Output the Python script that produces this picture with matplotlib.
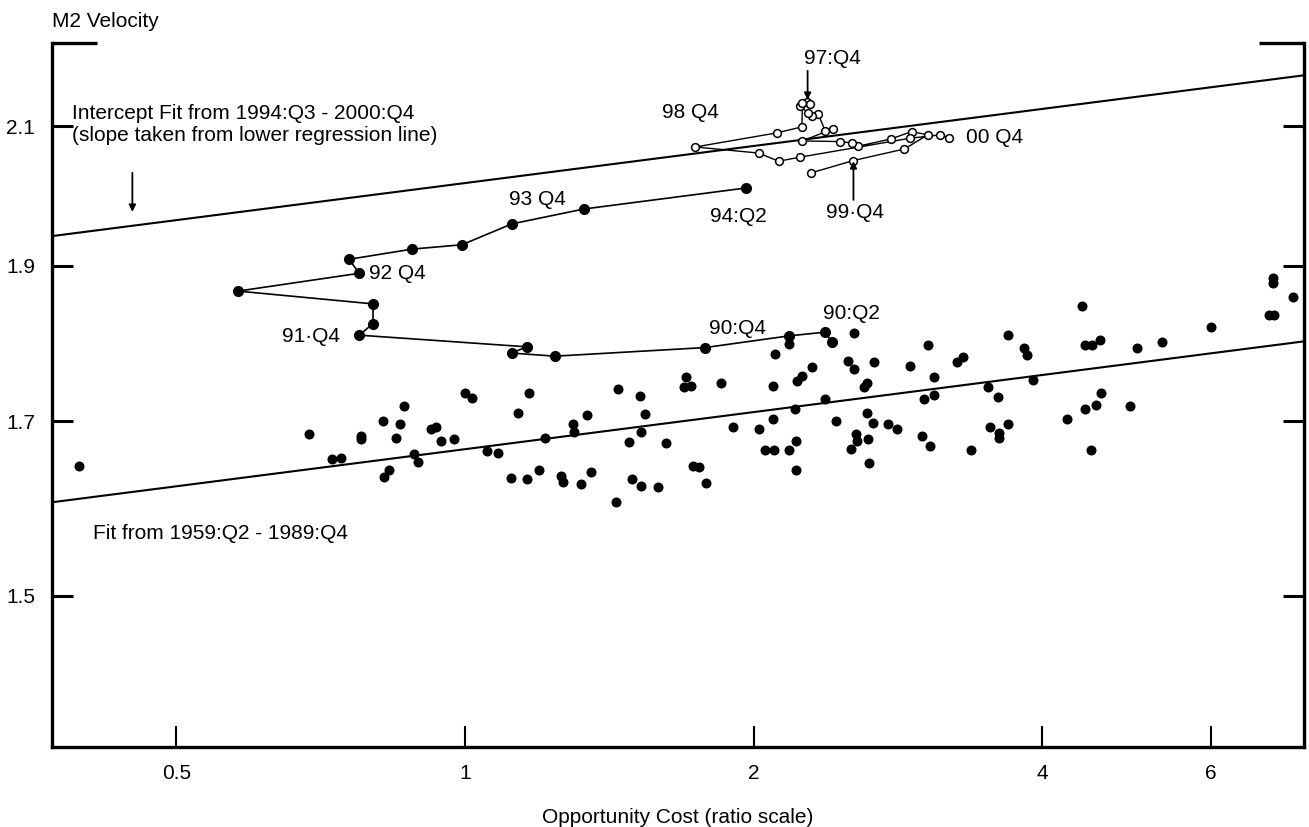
import numpy as np
import matplotlib as mp
import matplotlib.pyplot as plt
from matplotlib.ticker import NullLocator, FixedLocator, FixedFormatter

mp.rcParams['font.family'] = ['Liberation Sans', 'DejaVu Sans']
mp.rcParams.update({'font.size': 15})

# Quarterly data 1959:Q2 - 1989:Q4 (opportunity cost, M2 velocity)
scat_x = [0.396, 0.688, 0.727, 0.743, 0.779, 0.779, 0.821, 0.823, 0.833, 0.847,
          0.856, 0.864, 0.885, 0.893, 0.922, 0.933, 0.944, 0.974, 1.000, 1.017,
          1.054, 1.082, 1.117, 1.136, 1.160, 1.166, 1.194, 1.212, 1.259, 1.265,
          1.296, 1.299, 1.321, 1.340, 1.353, 1.436, 1.443, 1.482, 1.493, 1.521,
          1.525, 1.528, 1.540, 1.589, 1.620, 1.691, 1.720, 1.728, 1.699, 1.753,
          1.782, 1.848, 1.902, 2.024, 2.093, 2.093, 2.108, 2.058, 2.103, 2.175,
          2.207, 2.217, 2.217, 2.222, 2.244, 2.299, 2.180, 2.377, 2.440, 2.512,
          2.548, 2.548, 2.530, 2.560, 2.566, 2.629, 2.635, 2.641, 2.666, 2.610,
          2.623, 2.673, 2.765, 2.825, 2.915, 3.000, 3.014, 3.044, 3.052, 3.088,
          3.088, 3.262, 3.310, 3.374, 3.514, 3.531, 3.600, 3.609, 3.609, 3.688,
          3.688, 3.832, 3.860, 3.916, 4.245, 4.400, 4.432, 4.508, 4.596, 4.432,
          4.552, 4.607, 4.497, 4.936, 5.020, 5.327, 5.993, 6.897, 6.980, 6.963,
          6.963, 7.307]
scat_y = [1.646, 1.685, 1.654, 1.656, 1.682, 1.678, 1.700, 1.633, 1.642, 1.680,
          1.696, 1.719, 1.660, 1.651, 1.691, 1.693, 1.676, 1.678, 1.735, 1.729,
          1.664, 1.662, 1.632, 1.710, 1.631, 1.735, 1.641, 1.680, 1.635, 1.627,
          1.696, 1.687, 1.625, 1.708, 1.639, 1.604, 1.740, 1.675, 1.631, 1.731,
          1.687, 1.623, 1.709, 1.622, 1.674, 1.742, 1.743, 1.646, 1.754, 1.645,
          1.626, 1.747, 1.693, 1.690, 1.703, 1.743, 1.784, 1.665, 1.665, 1.665,
          1.715, 1.676, 1.641, 1.749, 1.756, 1.767, 1.797, 1.727, 1.700, 1.775,
          1.811, 1.765, 1.666, 1.685, 1.676, 1.710, 1.678, 1.650, 1.698, 1.742,
          1.747, 1.773, 1.696, 1.690, 1.769, 1.682, 1.727, 1.795, 1.670, 1.732,
          1.755, 1.774, 1.780, 1.665, 1.742, 1.693, 1.730, 1.686, 1.680, 1.696,
          1.808, 1.792, 1.782, 1.751, 1.703, 1.846, 1.795, 1.795, 1.802, 1.715,
          1.720, 1.735, 1.665, 1.719, 1.792, 1.799, 1.818, 1.834, 1.834, 1.884,
          1.877, 1.858]

# 1990:Q1 - 1994:Q2
path1_x = [2.412, 2.377, 2.175, 1.780, 1.241, 1.119, 1.160, 0.776, 0.802, 0.802,
           0.580, 0.776, 0.757, 0.881, 0.993, 1.119, 1.330, 1.962]
path1_y = [1.799, 1.812, 1.807, 1.792, 1.781, 1.785, 1.793, 1.808, 1.823, 1.849,
           1.866, 1.890, 1.909, 1.923, 1.929, 1.958, 1.979, 2.009]

# 1994:Q3 - 2000:Q4
path2_x = [2.297, 2.542, 2.873, 3.038, 2.924, 2.783, 2.569, 2.532, 2.462, 2.249,
           2.419, 2.375, 2.337, 2.300, 2.278, 2.237, 2.273, 2.291, 2.249, 2.246,
           2.115, 1.739, 2.024, 2.124, 2.237, 2.913, 3.130, 3.198]
path2_y = [2.031, 2.049, 2.066, 2.087, 2.092, 2.081, 2.070, 2.075, 2.077, 2.078,
           2.096, 2.093, 2.118, 2.116, 2.120, 2.131, 2.137, 2.134, 2.135, 2.099,
           2.090, 2.069, 2.060, 2.048, 2.054, 2.082, 2.087, 2.083]

# regression lines (end points)
fit_x = [0.371, 7.50]
low_fit_y = [1.604, 1.800]
up_fit_y = [1.941, 2.178]

xticks = [0.5, 1, 2, 4, 6]
xtick_labels = ['0.5', '1', '2', '4', '6']
yticks = [1.5, 1.7, 1.9, 2.1]
ytick_labels = ['1.5', '1.7', '1.9', '2.1']

fig = plt.figure(figsize=(13.09, 8.27), dpi=100)
ax = fig.add_axes([0.0397, 0.0967, 0.9565, 0.8513])
ax.set_xscale('log')
ax.set_yscale('log')
ax.set_xlim(0.371, 7.50)
ax.set_ylim(1.346, 2.229)

ax.plot(fit_x, low_fit_y, color='black', lw=1.5)
ax.plot(fit_x, up_fit_y, color='black', lw=1.5)

ax.plot(scat_x, scat_y, 'o', color='black', ms=6.2, ls='none')
ax.plot(path1_x, path1_y, '-o', color='black', lw=1.2, ms=7)
ax.plot(path2_x, path2_y, '-o', color='black', lw=1.0, ms=5.6,
        mfc='white', mew=1.1)

# labels for the path points
ax.text(1.189, 1.992, '93 Q4', ha='center', va='center')
ax.text(0.8495, 1.890, '92 Q4', ha='center', va='center')
ax.text(0.691, 1.806, '91·Q4', ha='center', va='center')
ax.text(1.925, 1.817, '90:Q4', ha='center', va='center')
ax.text(2.530, 1.836, '90:Q2', ha='center', va='center')
ax.text(1.930, 1.968, '94:Q2', ha='center', va='center')
ax.text(1.720, 2.120, '98 Q4', ha='center', va='center')
ax.text(3.334, 2.0825, '00 Q4', ha='left', va='center')
ax.text(2.417, 2.204, '97:Q4', ha='center', va='center')
ax.text(2.554, 1.9735, '99·Q4', ha='center', va='center')

arw = dict(arrowstyle='-|>', color='black', lw=1.3, mutation_scale=10,
           shrinkA=0, shrinkB=0)
ax.annotate('', xy=(2.277, 2.140), xytext=(2.277, 2.185), arrowprops=arw)
ax.annotate('', xy=(2.542, 2.048), xytext=(2.542, 1.992), arrowprops=arw)
ax.annotate('', xy=(0.450, 1.975), xytext=(0.450, 2.031), arrowprops=arw)

ax.text(0.016, 0.900, 'Intercept Fit from 1994:Q3 - 2000:Q4',
        transform=ax.transAxes, ha='left', va='center')
ax.text(0.016, 0.868, '(slope taken from lower regression line)',
        transform=ax.transAxes, ha='left', va='center')
ax.text(0.4098, 1.568, 'Fit from 1959:Q2 - 1989:Q4', ha='left', va='center')
ax.text(0.0, 1.031, 'M2 Velocity', transform=ax.transAxes,
        ha='left', va='center')

ax.xaxis.set_major_locator(FixedLocator(xticks))
ax.xaxis.set_major_formatter(FixedFormatter(xtick_labels))
ax.yaxis.set_major_locator(FixedLocator(yticks))
ax.yaxis.set_major_formatter(FixedFormatter(ytick_labels))
ax.xaxis.set_minor_locator(NullLocator())
ax.yaxis.set_minor_locator(NullLocator())

ax.tick_params(axis='both', direction='in', length=15, width=1.5, pad=12)
ax.tick_params(axis='y', right=True, width=2.2)
ax.set_xlabel('Opportunity Cost (ratio scale)', labelpad=18)

for s in ['left', 'right', 'bottom']:
    ax.spines[s].set_linewidth(2.4)
ax.spines['top'].set_visible(False)
# short top pieces at the two corners
ax.plot([0, 0.036], [1, 1], transform=ax.transAxes, color='black',
        lw=2.4, clip_on=False, solid_capstyle='butt')
ax.plot([0.964, 1], [1, 1], transform=ax.transAxes, color='black',
        lw=2.4, clip_on=False, solid_capstyle='butt')

fig.savefig('out.png', dpi=100)
